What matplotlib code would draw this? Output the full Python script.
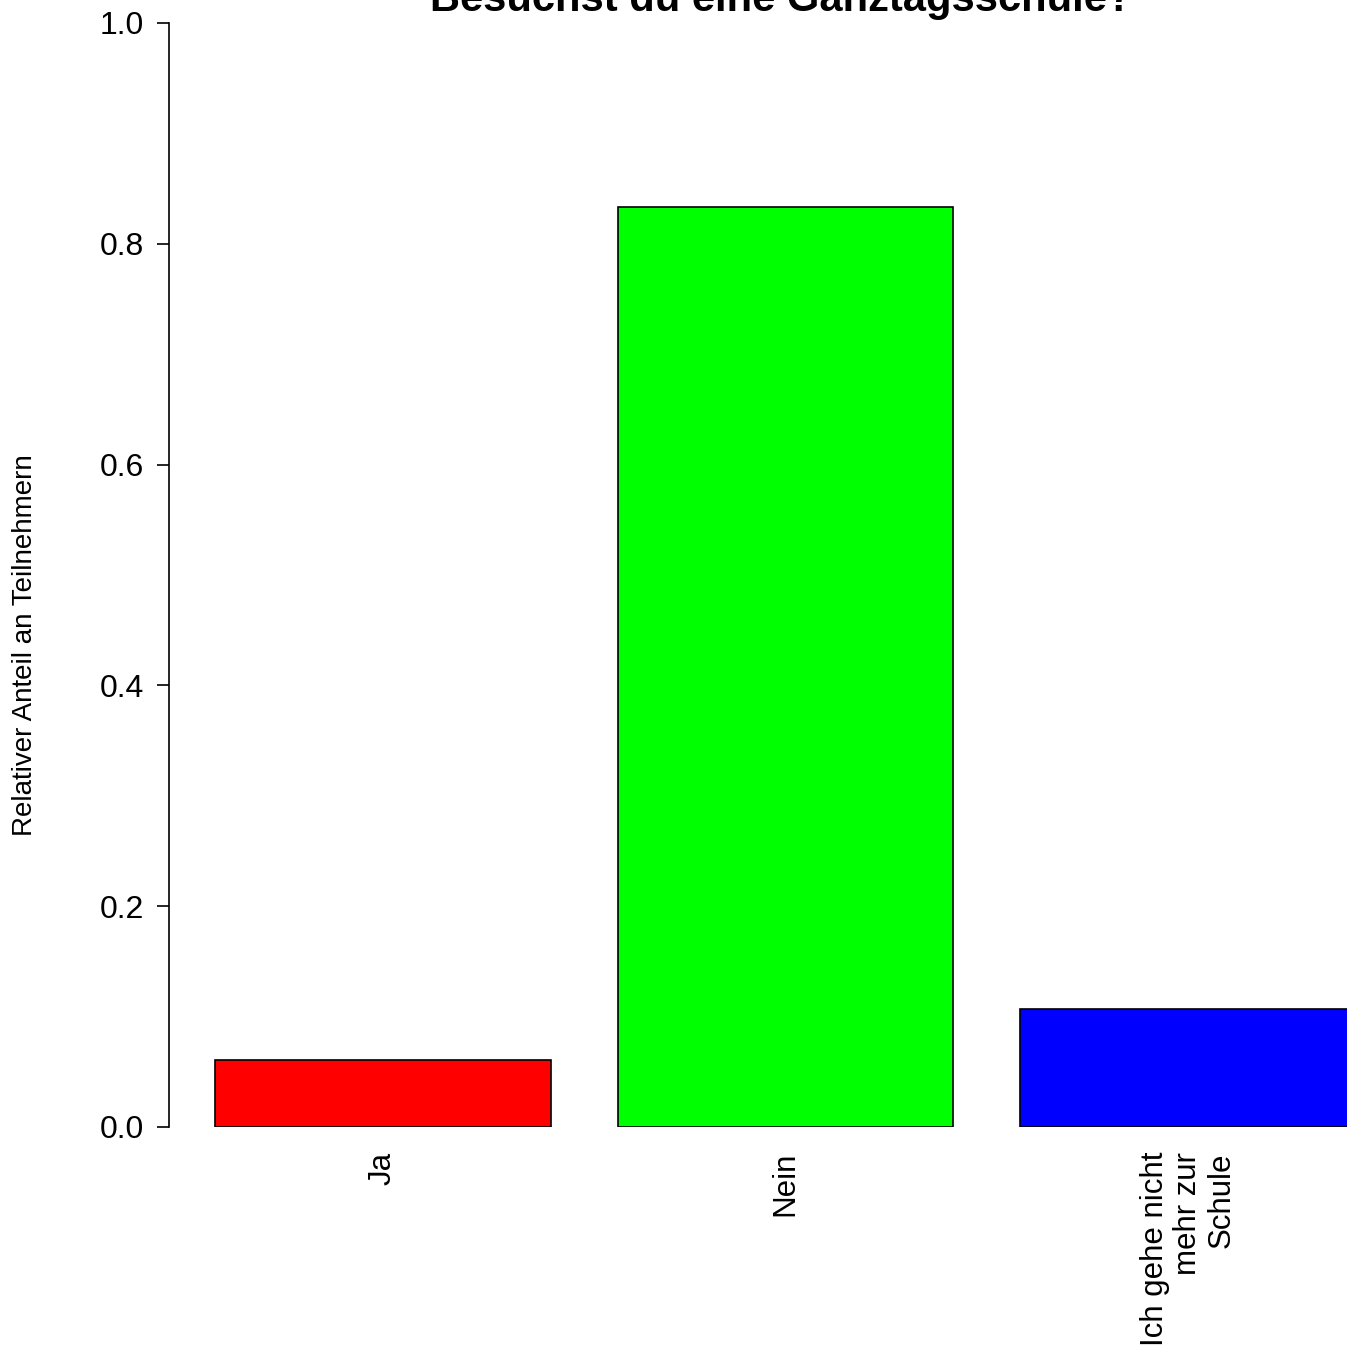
import matplotlib.pyplot as plt

plt.rcParams['font.family'] = ['Liberation Sans', 'DejaVu Sans']

# data
categories = ['Ja', 'Nein', 'Ich gehe nicht\nmehr zur\nSchule']
shares = [0.061, 0.833, 0.107]
colors = ['#ff0000', '#00ff00', '#0000ff']
title = 'Besuchst du eine Ganztagsschule?'
yticks = [0.0, 0.2, 0.4, 0.6, 0.8, 1.0]

W, H = 1347, 1351
fig = plt.figure(figsize=(W / 100, H / 100), dpi=100)

# plot region in pixels: y axis at x=169, y=0 at 1127, y=1 at 23
px_unit = 335.5
x0 = 21 / px_unit
ax = fig.add_axes([169 / W, (H - 1127) / H, (W - 169) / W, (1127 - 23) / H])

# R barplot: width 1, space 0.2
centers = [0.7 + 1.2 * i for i in range(len(shares))]
ax.bar(centers, shares, width=1.0, color=colors, edgecolor='black', linewidth=1.2)

ax.set_xlim(x0, x0 + (W - 169) / px_unit)
ax.set_ylim(0, 1)

for s in ['top', 'right', 'bottom']:
    ax.spines[s].set_visible(False)
ax.spines['left'].set_bounds(0, 1)
ax.spines['left'].set_linewidth(1.2)

ax.set_yticks(yticks)
ax.set_yticklabels(['%.1f' % t for t in yticks], fontsize=23)
ax.tick_params(axis='y', length=9, width=1.2, pad=9)

ax.set_xticks(centers)
ax.set_xticklabels(categories, rotation=90, fontsize=22.5, va='top',
                   ha='center', multialignment='right', linespacing=1.15)
ax.tick_params(axis='x', length=0, pad=18)

fig.text(25 / W, 1 - 645 / H, 'Relativer Anteil an Teilnehmern', rotation=90,
         fontsize=20, ha='center', va='center')

fig.text(781 / W, 1 - 11 / H, title, fontsize=30, fontweight='bold',
         ha='center', va='baseline')

fig.savefig('out.png', dpi=100)
